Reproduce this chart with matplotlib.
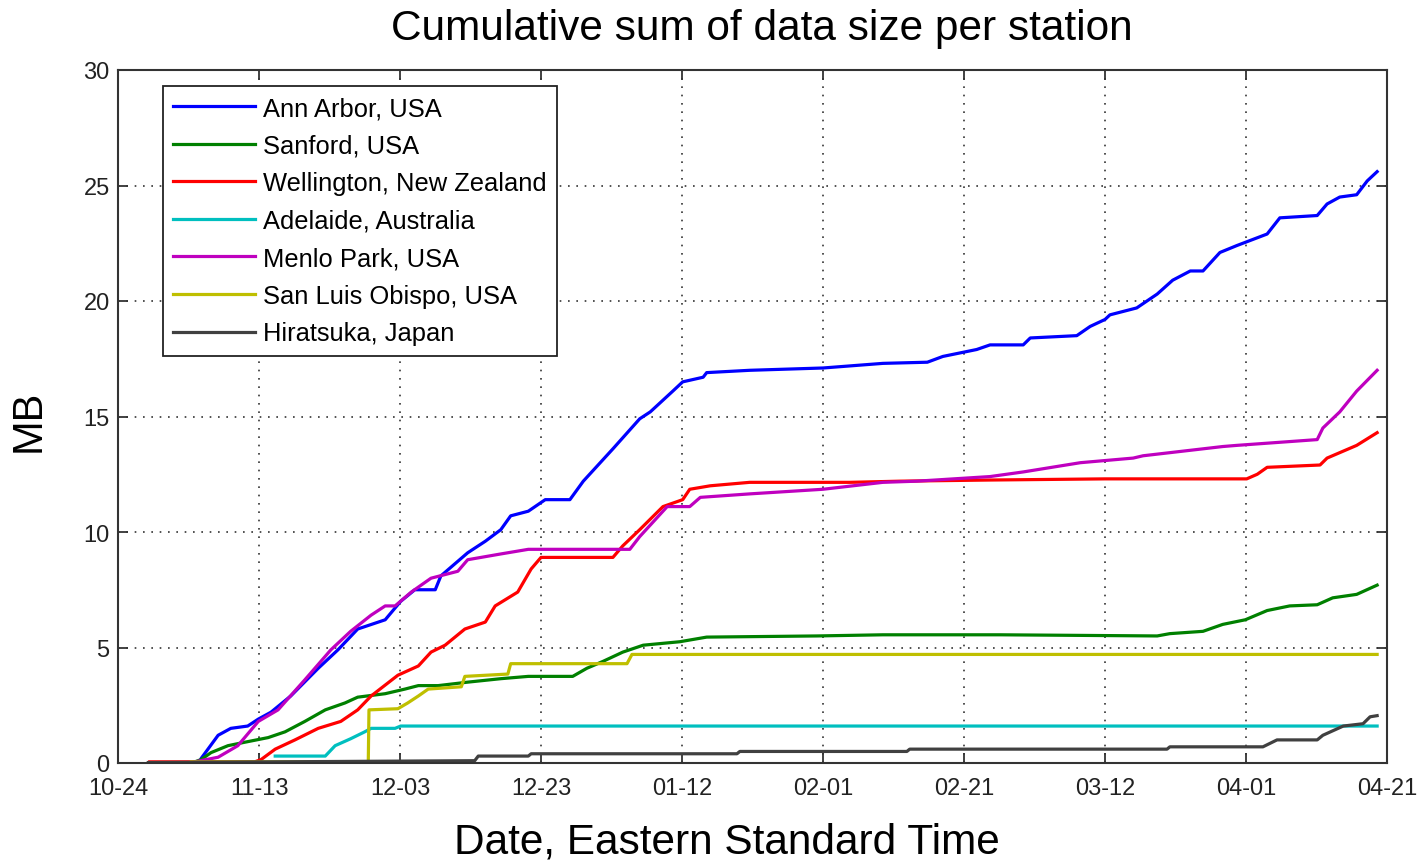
import matplotlib
matplotlib.use("Agg")
import matplotlib.pyplot as plt
import matplotlib.dates as mdates
import numpy as np
from datetime import datetime, timedelta

plt.rcParams['font.family'] = ['Liberation Sans', 'DejaVu Sans']

START = datetime(2011, 10, 24)

labels = ["Ann Arbor, USA", "Sanford, USA", "Wellington, New Zealand",
          "Adelaide, Australia", "Menlo Park, USA", "San Luis Obispo, USA",
          "Hiratsuka, Japan"]
colors = ["#0000ff", "#008000", "#ff0000", "#00bfbf", "#bf00bf", "#bfbf00", "#404040"]

# days since 2011-10-24, cumulative MB
ann_days = [11.5, 11.8, 14.2, 16.0, 18.4, 19.9, 21.7, 24.5, 28.4, 31.2, 34.0, 37.9, 40.1, 42.1, 45.0,
            45.8, 49.6, 52.1, 54.3, 55.7, 58.2, 60.6, 64.1, 66.0, 70.2, 74.0, 75.5, 78.7, 80.1,
            83.0, 83.5, 89.6, 100.0, 108.5, 114.8, 117.0, 121.8, 123.7, 128.4, 129.4, 136.0,
            137.9, 140.0, 140.7, 144.5, 147.4, 149.6, 152.1, 153.9, 156.3, 158.7, 163.0, 164.8,
            170.1, 171.5, 173.3, 175.7, 177.2, 178.6]
ann_mb = [0.0, 0.2, 1.2, 1.5, 1.6, 1.9, 2.2, 2.9, 4.1, 4.9, 5.8, 6.2, 7.0, 7.5, 7.5,
          8.1, 9.1, 9.6, 10.1, 10.7, 10.9, 11.4, 11.4, 12.2, 13.6, 14.9, 15.2, 16.1, 16.5,
          16.7, 16.9, 17.0, 17.1, 17.3, 17.35, 17.6, 17.9, 18.1, 18.1, 18.4, 18.5,
          18.9, 19.2, 19.4, 19.7, 20.3, 20.9, 21.3, 21.3, 22.1, 22.4, 22.9, 23.6,
          23.7, 24.2, 24.5, 24.6, 25.2, 25.6]

san_days = [10.9, 11.8, 13.2, 15.6, 18.0, 21.3, 23.7, 26.5, 29.4, 32.2, 34.0, 37.9, 40.7, 42.6,
            45.4, 49.6, 54.3, 58.2, 64.5, 66.5, 68.8, 71.6, 74.5, 79.7, 83.5, 99.1, 108.5,
            125.1, 147.4, 149.2, 153.9, 156.7, 159.9, 163.0, 166.2, 170.1, 172.3, 175.7, 178.6]
san_mb = [0.05, 0.15, 0.45, 0.75, 0.9, 1.1, 1.35, 1.8, 2.3, 2.6, 2.85, 3.0, 3.2, 3.35,
          3.35, 3.5, 3.65, 3.75, 3.75, 4.1, 4.4, 4.8, 5.1, 5.25, 5.45, 5.5, 5.55,
          5.55, 5.5, 5.6, 5.7, 6.0, 6.2, 6.6, 6.8, 6.85, 7.15, 7.3, 7.7]

wel_days = [4.5, 9.9, 19.4, 20.3, 22.3, 25.1, 28.4, 31.6, 34.0, 35.9, 39.7, 42.6, 44.4, 46.4,
            49.2, 52.1, 53.5, 56.7, 58.6, 60.0, 70.2, 71.6, 74.0, 77.3, 80.1, 81.1, 84.0,
            89.6, 103.8, 110.9, 123.7, 140.0, 160.1, 161.6, 163.0, 170.5, 171.5, 175.7, 178.6]
wel_mb = [0.05, 0.05, 0.05, 0.15, 0.6, 1.0, 1.5, 1.8, 2.3, 2.9, 3.8, 4.2, 4.8, 5.1,
          5.8, 6.1, 6.8, 7.4, 8.4, 8.9, 8.9, 9.4, 10.1, 11.1, 11.4, 11.85, 12.0,
          12.15, 12.15, 12.2, 12.25, 12.3, 12.3, 12.5, 12.8, 12.9, 13.2, 13.75, 14.3]

ade_days = [22.3, 29.4, 30.8, 33.0, 35.0, 35.9, 39.3, 40.1, 178.6]
ade_mb = [0.3, 0.3, 0.75, 1.05, 1.35, 1.5, 1.5, 1.6, 1.6]

men_days = [10.9, 14.2, 17.0, 19.9, 22.7, 26.5, 30.2, 33.0, 35.9, 37.9, 39.3, 41.6, 44.4, 48.2,
            49.6, 54.3, 58.2, 72.6, 74.0, 77.9, 81.1, 82.6, 89.6, 100.0, 108.5, 113.3, 123.7,
            128.4, 136.5, 144.0, 145.4, 156.7, 158.7, 170.1, 170.9, 173.3, 175.7, 178.6]
men_mb = [0.05, 0.25, 0.75, 1.8, 2.3, 3.6, 4.9, 5.7, 6.4, 6.8, 6.8, 7.4, 8.0, 8.3,
          8.8, 9.05, 9.25, 9.25, 9.8, 11.1, 11.1, 11.5, 11.65, 11.85, 12.15, 12.2, 12.4,
          12.6, 13.0, 13.2, 13.3, 13.7, 13.75, 14.0, 14.5, 15.2, 16.1, 17.0]

slo_days = [10.4, 35.5, 35.6, 39.7, 41.1, 42.6, 44.0, 48.7, 49.2, 55.3, 55.7, 72.2, 72.9, 178.6]
slo_mb = [0.05, 0.05, 2.3, 2.35, 2.6, 2.9, 3.2, 3.3, 3.75, 3.85, 4.3, 4.3, 4.7, 4.7]

hir_days = [4.3, 50.6, 51.1, 58.2, 58.6, 87.8, 88.2, 111.9, 112.3, 148.8, 149.2, 162.4, 164.4,
            170.1, 170.9, 173.8, 176.6, 177.6, 178.6]
hir_mb = [0.02, 0.1, 0.3, 0.3, 0.4, 0.4, 0.5, 0.5, 0.6, 0.6, 0.7, 0.7, 1.0,
          1.0, 1.2, 1.6, 1.7, 2.0, 2.05]

series = [(ann_days, ann_mb), (san_days, san_mb), (wel_days, wel_mb), (ade_days, ade_mb),
          (men_days, men_mb), (slo_days, slo_mb), (hir_days, hir_mb)]

tick_days = list(range(0, 181, 20))
y_ticks = [0, 5, 10, 15, 20, 25, 30]

fig = plt.figure(figsize=(14.17, 8.62), dpi=100)
ax = fig.add_axes([118/1417, 1 - 764/862, (1387-118)/1417, (764-71)/862])

for (d, v), c, lab in zip(series, colors, labels):
    dates = [START + timedelta(days=x) for x in d]
    ax.plot(dates, v, color=c, lw=2.3, label=lab)

ax.set_xlim(START, START + timedelta(days=180))
ax.set_ylim(0, 30)
ax.set_xticks([START + timedelta(days=t) for t in tick_days])
ax.xaxis.set_major_formatter(mdates.DateFormatter('%m-%d'))
ax.set_yticks(y_ticks)
ax.grid(True, linestyle=(0, (1, 4)), color='#333333', lw=1.2)
ax.tick_params(direction='in', length=7, width=1.3, top=True, right=True,
               labelsize=17, colors='#333333', labelcolor='#222222')
ax.tick_params(axis='x', pad=10)
ax.tick_params(axis='y', pad=6)
for s in ax.spines.values():
    s.set_linewidth(1.5)
    s.set_color('#333333')

ax.set_title("Cumulative sum of data size per station", fontsize=30.5, pad=22, x=0.507)
ax.set_xlabel("Date, Eastern Standard Time", fontsize=30.5)
ax.xaxis.set_label_coords(0.48, -0.085)
ax.set_ylabel("MB", fontsize=30)
ax.yaxis.set_label_coords(-0.055, 0.495)

leg = ax.legend(loc='upper left', bbox_to_anchor=(45/1269, 1 - 16/693), borderaxespad=0,
                fontsize=18.4, handlelength=3.2, labelspacing=0.53, handletextpad=0.3,
                fancybox=False, edgecolor='#222222', framealpha=1, borderpad=0.4)
leg.get_frame().set_linewidth(1.3)

fig.savefig("out.png", dpi=100)
